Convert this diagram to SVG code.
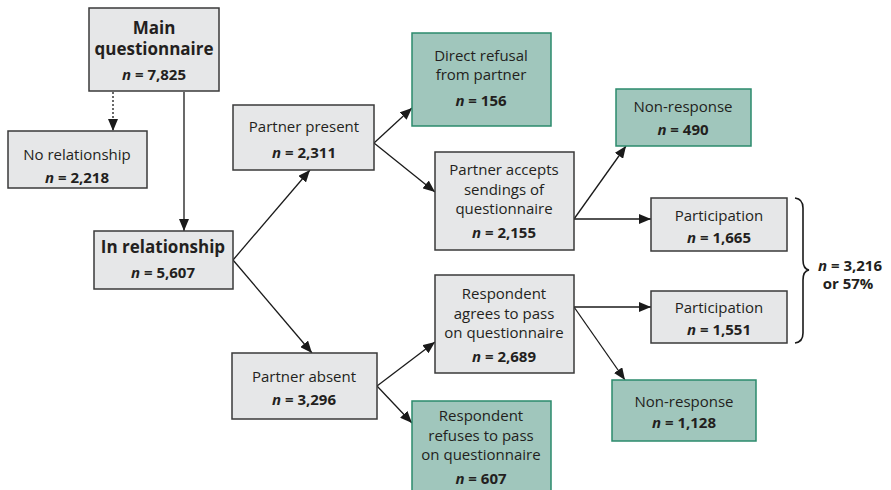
<svg xmlns="http://www.w3.org/2000/svg" width="891" height="490" viewBox="0 0 891 490">
<defs>
<marker id="ah" markerUnits="userSpaceOnUse" markerWidth="12" markerHeight="10" viewBox="0 0 12 10" refX="12" refY="5" orient="auto">
<path d="M0,0 L12,5 L0,10 Z" fill="#1a1a1a"/>
</marker>
</defs>
<style>
.g{fill:#e6e7e8;stroke:#3a3a3a;stroke-width:1.5}
.t{fill:#a0c6bc;stroke:#2b8a6c;stroke-width:1.5}
text{font-family:"Open Sans","Noto Sans",sans-serif;font-size:15px;fill:#231f20;text-anchor:middle}
.b{font-weight:bold}
.h{font-weight:bold;font-size:17px}
.i{font-style:italic}
.c line{stroke:#1a1a1a;stroke-width:1.3;marker-end:url(#ah)}
</style>
<rect width="891" height="490" fill="#ffffff"/>
<g class="c" id="connectors">
<line x1="113" y1="92" x2="113" y2="131" stroke-dasharray="2,2"/>
<line x1="184" y1="92" x2="184" y2="231"/>
<line x1="233" y1="260" x2="310" y2="170"/>
<line x1="233" y1="260" x2="312" y2="353"/>
<line x1="374" y1="143" x2="412" y2="108"/>
<line x1="374" y1="143" x2="435" y2="192"/>
<line x1="574" y1="219" x2="626" y2="146"/>
<line x1="574" y1="219" x2="651" y2="219"/>
<line x1="377" y1="386" x2="435" y2="342"/>
<line x1="377" y1="386" x2="412" y2="423"/>
<line x1="574" y1="307" x2="651" y2="307"/>
<line x1="574" y1="307" x2="625" y2="380"/>
</g>
<g id="main">
<rect class="g" x="89" y="8" width="130" height="83"/>
<text class="h" x="154" y="34">Main</text>
<text class="h" x="154" y="55">questionnaire</text>
<text class="b" x="154" y="80"><tspan class="i">n</tspan> = 7,825</text>
</g>
<g id="no-relationship">
<rect class="g" x="8" y="131" width="139" height="57"/>
<text x="77" y="160">No relationship</text>
<text class="b" x="77" y="183"><tspan class="i">n</tspan> = 2,218</text>
</g>
<g id="in-relationship">
<rect class="g" x="94" y="231" width="139" height="58"/>
<text class="h" x="163" y="253">In relationship</text>
<text class="b" x="163" y="278"><tspan class="i">n</tspan> = 5,607</text>
</g>
<g id="partner-present">
<rect class="g" x="233" y="105" width="141" height="65"/>
<text x="304" y="132">Partner present</text>
<text class="b" x="304" y="158"><tspan class="i">n</tspan> = 2,311</text>
</g>
<g id="partner-absent">
<rect class="g" x="232" y="353" width="145" height="66"/>
<text x="304" y="382">Partner absent</text>
<text class="b" x="304" y="405"><tspan class="i">n</tspan> = 3,296</text>
</g>
<g id="direct-refusal">
<rect class="t" x="412" y="33" width="139" height="93"/>
<text x="481" y="61">Direct refusal</text>
<text x="481" y="80">from partner</text>
<text class="b" x="481" y="106"><tspan class="i">n</tspan> = 156</text>
</g>
<g id="partner-accepts">
<rect class="g" x="435" y="152" width="139" height="98"/>
<text x="504" y="175">Partner accepts</text>
<text x="504" y="195">sendings of</text>
<text x="504" y="214">questionnaire</text>
<text class="b" x="504" y="238"><tspan class="i">n</tspan> = 2,155</text>
</g>
<g id="non-response-490">
<rect class="t" x="616" y="89" width="135" height="57"/>
<text x="683" y="112">Non-response</text>
<text class="b" x="683" y="135"><tspan class="i">n</tspan> = 490</text>
</g>
<g id="participation-1665">
<rect class="g" x="651" y="198" width="136" height="53"/>
<text x="719" y="221">Participation</text>
<text class="b" x="719" y="243"><tspan class="i">n</tspan> = 1,665</text>
</g>
<g id="participation-1551">
<rect class="g" x="651" y="291" width="136" height="52"/>
<text x="719" y="313">Participation</text>
<text class="b" x="719" y="335"><tspan class="i">n</tspan> = 1,551</text>
</g>
<g id="respondent-agrees">
<rect class="g" x="435" y="275" width="139" height="98"/>
<text x="504" y="299">Respondent</text>
<text x="504" y="319">agrees to pass</text>
<text x="504" y="338">on questionnaire</text>
<text class="b" x="504" y="362"><tspan class="i">n</tspan> = 2,689</text>
</g>
<g id="respondent-refuses">
<rect class="t" x="412" y="401" width="139" height="95"/>
<text x="481" y="421">Respondent</text>
<text x="481" y="441">refuses to pass</text>
<text x="481" y="460">on questionnaire</text>
<text class="b" x="481" y="484"><tspan class="i">n</tspan> = 607</text>
</g>
<g id="non-response-1128">
<rect class="t" x="612" y="380" width="144" height="61"/>
<text x="684" y="407">Non-response</text>
<text class="b" x="684" y="428"><tspan class="i">n</tspan> = 1,128</text>
</g>
<g id="total">
<path d="M795,198 Q803,199 803,208 L803,260 Q803,269 809,270 Q803,271 803,280 L803,333 Q803,342 795,343" fill="none" stroke="#1a1a1a" stroke-width="1.6"/>
<text class="b" x="850" y="271"><tspan class="i">n</tspan> = 3,216</text>
<text class="b" x="848" y="289">or 57%</text>
</g>
</svg>
